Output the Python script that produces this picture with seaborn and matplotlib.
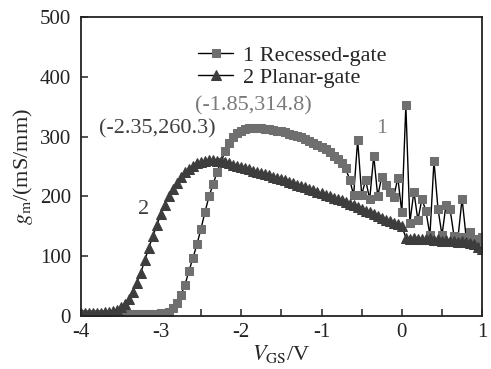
import numpy as np
import pandas as pd
import matplotlib
matplotlib.use("Agg")
import matplotlib.pyplot as plt
import seaborn as sns

# gate voltage sweep (V), 0.05 V step
vgs = np.round(np.arange(-4.0, 1.0001, 0.05), 2)

# transconductance (mS/mm)
gm_recessed = (
    [3] * 19 + [3.5, 4]
    + [5, 7, 13, 22, 35, 52, 75, 97, 120, 146,
       174, 200, 220, 241, 258, 275, 289, 299, 306, 310,
       312.5, 314, 314.8, 314.6, 314, 313, 312, 311, 310, 308.5,
       307, 305, 303, 301, 298.5, 296, 293, 290, 286.5, 283,
       279, 274, 268, 262, 255, 247]
    + [228, 202, 294, 203, 227, 195, 268, 200, 233, 219,
       207, 199, 231, 173, 352, 156, 208, 160, 196, 175,
       135, 259, 179, 135, 186, 179, 133, 132, 196, 132,
       140, 129, 127, 132]
)
gm_planar = (
    [4, 4, 4, 5, 5, 5, 6, 7, 8]
    + [10, 14, 20, 28, 40, 55, 72, 93, 114, 133,
       152, 170, 186, 200, 213, 223, 232, 240, 246, 251,
       255, 258, 259.5, 260.2, 260.3]
    + [259.8, 259, 257.5, 255, 253, 251, 249, 247, 245, 243,
       241, 239, 237, 235, 233, 231, 229, 226.5, 224, 222,
       219.5, 217, 215, 212.5, 210, 208, 205.5, 203, 200.5, 198,
       195.5, 193, 190, 187.5, 185, 182, 179, 176, 173, 170,
       167, 164, 161, 158, 155.5, 153, 150]
    + [131, 129, 130, 128, 129, 128, 130, 127, 128, 126,
       127, 125, 126, 124, 125, 123, 122, 120, 116, 112]
)

df = pd.DataFrame({"vgs": vgs, "recessed": gm_recessed, "planar": gm_planar})

sns.set_style("ticks")
plt.rcParams["font.family"] = ["Liberation Serif", "DejaVu Serif"]
plt.rcParams["mathtext.fontset"] = "stix"

fig, ax = plt.subplots(figsize=(4.91, 3.69), dpi=100)
fig.subplots_adjust(left=0.164, right=0.982, bottom=0.144, top=0.954)

sq_col = "#6f6f6f"
tri_col = "#3d3d3d"

sns.lineplot(data=df, x="vgs", y="recessed", ax=ax, color="black", lw=1.0,
             marker="s", markersize=5.3,
             markerfacecolor=sq_col, markeredgecolor=sq_col,
             label="1 Recessed-gate")
sns.lineplot(data=df, x="vgs", y="planar", ax=ax, color="black", lw=1.0,
             marker="^", markersize=6.8,
             markerfacecolor=tri_col, markeredgecolor=tri_col,
             label="2 Planar-gate")

ax.set_xlim(-4, 1)
ax.set_ylim(0, 500)
ax.set_xticks([-4, -3, -2, -1, 0, 1])
ax.set_xticklabels(["-4", "-3", "-2", "-1", "0", "1"])
ax.set_xticks(np.arange(-3.5, 1, 1.0), minor=True)
ax.set_yticks([0, 100, 200, 300, 400, 500])

for s in ax.spines.values():
    s.set_linewidth(1.3)
    s.set_color("#222222")
ax.tick_params(which="both", direction="in", length=5, width=1.1,
               colors="#222222", labelsize=15, top=False, right=False)
ax.tick_params(axis="x", pad=5)
ax.tick_params(axis="y", pad=7)

ax.set_xlabel(r"$V_{\rm GS}$/V", fontsize=16, labelpad=1)
ax.set_ylabel(r"$g_{\rm m}$/(mS/mm)", fontsize=16, labelpad=3)

ax.text(-1.85, 352, "(-1.85,314.8)", fontsize=16, color="#7a7a7a",
        ha="center", va="center")
ax.text(-3.04, 312, "(-2.35,260.3)", fontsize=16, color="#404040",
        ha="center", va="center")
ax.text(-0.25, 313, "1", fontsize=16, color="#808080", ha="center", va="center")
ax.text(-3.22, 178, "2", fontsize=16, color="#404040", ha="center", va="center")

ax.legend(loc="upper left", bbox_to_anchor=(0.27, 0.935), frameon=False,
          fontsize=16, handlelength=1.6, handletextpad=0.45,
          labelspacing=0.05, borderaxespad=0)

fig.savefig("out.png", dpi=100)
